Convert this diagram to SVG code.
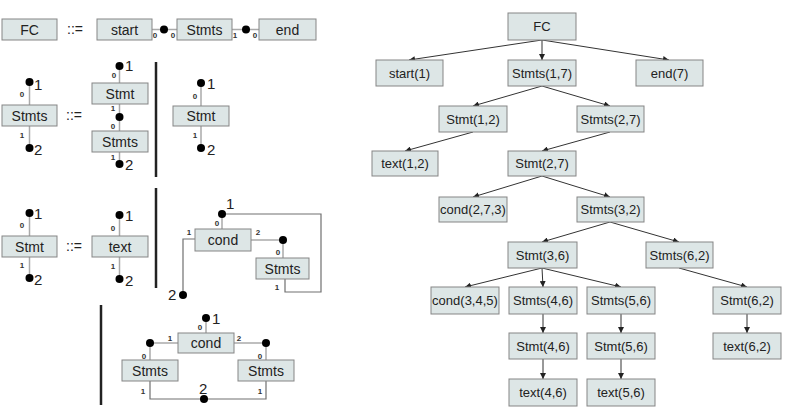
<svg xmlns="http://www.w3.org/2000/svg" width="785" height="412" viewBox="0 0 785 412">
<defs>
<marker id="ah" markerUnits="userSpaceOnUse" markerWidth="7" markerHeight="6" refX="6" refY="3" orient="auto"><path d="M0,0 L6,3 L0,6 z" fill="#222"/></marker>
<style>
.box{fill:#dde6e6;stroke:#858585;stroke-width:1}
.t{font-family:"Liberation Sans",Arial,sans-serif;font-size:13px;fill:#222;text-anchor:middle}
.tl{font-family:"Liberation Sans",Arial,sans-serif;font-size:14px;fill:#222;text-anchor:middle}
.p{font-family:"Liberation Sans",Arial,sans-serif;font-size:8px;font-weight:bold;fill:#333;text-anchor:middle}
.n{font-family:"Liberation Sans",Arial,sans-serif;font-size:15px;fill:#222}
.w{stroke:#aaa;stroke-width:1.5;fill:none}
.wd{stroke:#707070;stroke-width:1.2;fill:none}
.dot{fill:#000}
.bar{stroke:#222;stroke-width:2.5}
.a{stroke:#333;stroke-width:1;fill:none;marker-end:url(#ah)}
</style>
</defs>
<rect width="785" height="412" fill="#fff"/>

<g id="connectors">
<line class="w" x1="152" y1="29.5" x2="177" y2="29.5"/>
<line class="w" x1="232" y1="29.5" x2="259" y2="29.5"/>
<line class="w" x1="29.5" y1="82" x2="29.5" y2="105"/>
<line class="w" x1="29.5" y1="126" x2="29.5" y2="148"/>
<line class="w" x1="119.5" y1="66" x2="119.5" y2="83"/>
<line class="w" x1="119.5" y1="104" x2="119.5" y2="131"/>
<line class="w" x1="119.5" y1="152" x2="119.5" y2="164"/>
<line class="w" x1="201" y1="83" x2="201" y2="106"/>
<line class="w" x1="201" y1="126" x2="201" y2="148"/>
<line class="w" x1="29.5" y1="213" x2="29.5" y2="236"/>
<line class="w" x1="29.5" y1="257" x2="29.5" y2="278"/>
<line class="w" x1="119.5" y1="215" x2="119.5" y2="236"/>
<line class="w" x1="119.5" y1="257" x2="119.5" y2="279"/>
<line class="w" x1="222" y1="214" x2="222" y2="229"/>
<polyline class="wd" points="222,214 321,214 321,292 285,292 285,279"/>
<polyline class="wd" points="195,239 183,239 183,295"/>
<polyline class="w" points="251,240 283,240 283,258"/>
<line class="w" x1="206" y1="318" x2="206" y2="333"/>
<polyline class="w" points="178,343 150,343 150,360"/>
<polyline class="w" points="234,343 266,343 266,360"/>
<polyline class="wd" points="150,381 150,399 266,399 266,381"/>
<line class="bar" x1="156" y1="62" x2="156" y2="177"/>
<line class="bar" x1="156" y1="188" x2="156" y2="288"/>
<line class="bar" x1="101" y1="305" x2="101" y2="405"/>
<circle class="dot" cx="164" cy="29.5" r="4"/>
<circle class="dot" cx="246" cy="29.5" r="4"/>
<circle class="dot" cx="29.5" cy="82" r="4"/>
<circle class="dot" cx="29.5" cy="148" r="4"/>
<circle class="dot" cx="119.5" cy="66" r="4"/>
<circle class="dot" cx="119.5" cy="117" r="4"/>
<circle class="dot" cx="119.5" cy="164" r="4"/>
<circle class="dot" cx="201" cy="83" r="4"/>
<circle class="dot" cx="201" cy="148" r="4"/>
<circle class="dot" cx="29.5" cy="213" r="4"/>
<circle class="dot" cx="29.5" cy="278" r="4"/>
<circle class="dot" cx="119.5" cy="215" r="4"/>
<circle class="dot" cx="119.5" cy="279" r="4"/>
<circle class="dot" cx="222" cy="214" r="4"/>
<circle class="dot" cx="183" cy="295" r="4"/>
<circle class="dot" cx="283" cy="240" r="4"/>
<circle class="dot" cx="206" cy="318" r="4"/>
<circle class="dot" cx="150" cy="343" r="4"/>
<circle class="dot" cx="266" cy="343" r="4"/>
<circle class="dot" cx="204" cy="399" r="4"/>
<text class="p" x="155" y="38">0</text>
<text class="p" x="173" y="38">0</text>
<text class="p" x="235" y="38">1</text>
<text class="p" x="255" y="38">0</text>
<text class="p" x="22" y="97">0</text>
<text class="p" x="22" y="138">1</text>
<text class="p" x="114" y="78">0</text>
<text class="p" x="113" y="111">1</text>
<text class="p" x="113" y="129">0</text>
<text class="p" x="113" y="160">1</text>
<text class="p" x="195" y="99">0</text>
<text class="p" x="195" y="138">1</text>
<text class="p" x="22" y="228">0</text>
<text class="p" x="22" y="268">1</text>
<text class="p" x="113" y="231">0</text>
<text class="p" x="113" y="269">1</text>
<text class="p" x="217" y="226">0</text>
<text class="p" x="189" y="235">1</text>
<text class="p" x="258" y="235">2</text>
<text class="p" x="278" y="255">0</text>
<text class="p" x="277" y="290">1</text>
<text class="p" x="200" y="330">0</text>
<text class="p" x="170" y="341">1</text>
<text class="p" x="239" y="341">2</text>
<text class="p" x="144" y="359">0</text>
<text class="p" x="260" y="359">0</text>
<text class="p" x="143" y="394">1</text>
<text class="p" x="260" y="394">1</text>
<text class="n" x="34" y="90">1</text>
<text class="n" x="34" y="155">2</text>
<text class="n" x="125" y="71">1</text>
<text class="n" x="125" y="170">2</text>
<text class="n" x="207" y="89">1</text>
<text class="n" x="207" y="155">2</text>
<text class="n" x="34" y="219">1</text>
<text class="n" x="34" y="285">2</text>
<text class="n" x="125" y="221">1</text>
<text class="n" x="125" y="286">2</text>
<text class="n" x="226" y="209">1</text>
<text class="n" x="168" y="300">2</text>
<text class="n" x="212" y="324">1</text>
<text class="n" x="199" y="394">2</text>
<text class="tl" x="75" y="34">::=</text>
<text class="tl" x="74" y="120">::=</text>
<text class="tl" x="74" y="251">::=</text>
<line class="a" x1="542" y1="40" x2="409" y2="60"/>
<line class="a" x1="542" y1="40" x2="542" y2="60"/>
<line class="a" x1="542" y1="40" x2="669" y2="60"/>
<line class="a" x1="542" y1="86" x2="473" y2="106"/>
<line class="a" x1="542" y1="86" x2="610" y2="106"/>
<line class="a" x1="473" y1="132" x2="405" y2="151"/>
<line class="a" x1="610" y1="132" x2="542" y2="151"/>
<line class="a" x1="542" y1="176" x2="473" y2="197"/>
<line class="a" x1="542" y1="176" x2="610" y2="197"/>
<line class="a" x1="610" y1="222" x2="542" y2="242"/>
<line class="a" x1="610" y1="222" x2="679" y2="242"/>
<line class="a" x1="542" y1="268" x2="465" y2="287"/>
<line class="a" x1="542" y1="268" x2="543" y2="287"/>
<line class="a" x1="542" y1="268" x2="621" y2="287"/>
<line class="a" x1="679" y1="268" x2="747" y2="287"/>
<line class="a" x1="543" y1="314" x2="543" y2="333"/>
<line class="a" x1="621" y1="314" x2="621" y2="333"/>
<line class="a" x1="747" y1="314" x2="747" y2="333"/>
<line class="a" x1="543" y1="359" x2="543" y2="379"/>
<line class="a" x1="621" y1="359" x2="621" y2="379"/>
</g>

<g id="g-FC"><rect class="box" x="2" y="19" width="55" height="21"/><text class="tl" x="29.5" y="34.5">FC</text></g>
<g id="g-start"><rect class="box" x="97" y="19" width="55" height="21"/><text class="tl" x="124.5" y="34.5">start</text></g>
<g id="g-Stmts1"><rect class="box" x="177" y="19" width="55" height="21"/><text class="tl" x="204.5" y="34.5">Stmts</text></g>
<g id="g-end"><rect class="box" x="259" y="19" width="57" height="21"/><text class="tl" x="287.5" y="34.5">end</text></g>

<g id="g-Stmts2"><rect class="box" x="2" y="105" width="55" height="21"/><text class="tl" x="29.5" y="120.5">Stmts</text></g>
<g id="g-Stmt2a"><rect class="box" x="92" y="83" width="56" height="21"/><text class="tl" x="120" y="98.5">Stmt</text></g>
<g id="g-Stmts2b"><rect class="box" x="92" y="131" width="56" height="21"/><text class="tl" x="120" y="146.5">Stmts</text></g>
<g id="g-Stmt2c"><rect class="box" x="173" y="106" width="56" height="20"/><text class="tl" x="201" y="121">Stmt</text></g>

<g id="g-Stmt3"><rect class="box" x="2" y="236" width="55" height="21"/><text class="tl" x="29.5" y="251.5">Stmt</text></g>
<g id="g-text3"><rect class="box" x="92" y="236" width="56" height="21"/><text class="tl" x="120" y="251.5">text</text></g>
<g id="g-cond3"><rect class="box" x="195" y="229" width="56" height="22"/><text class="tl" x="223" y="245">cond</text></g>
<g id="g-Stmts3"><rect class="box" x="256" y="258" width="53" height="21"/><text class="tl" x="282.5" y="273.5">Stmts</text></g>

<g id="g-cond4"><rect class="box" x="178" y="333" width="56" height="20"/><text class="tl" x="206" y="348">cond</text></g>
<g id="g-Stmts4a"><rect class="box" x="122" y="360" width="56" height="21"/><text class="tl" x="150" y="375.5">Stmts</text></g>
<g id="g-Stmts4b"><rect class="box" x="238" y="360" width="56" height="21"/><text class="tl" x="266" y="375.5">Stmts</text></g>

<g id="t-FC"><rect class="box" x="508" y="13" width="68" height="27"/><text class="t" x="542" y="31">FC</text></g>
<g id="t-start1"><rect class="box" x="376" y="60" width="67" height="26"/><text class="t" x="409.5" y="77.5">start(1)</text></g>
<g id="t-Stmts17"><rect class="box" x="508" y="60" width="68" height="26"/><text class="t" x="542" y="77.5">Stmts(1,7)</text></g>
<g id="t-end7"><rect class="box" x="636" y="60" width="67" height="26"/><text class="t" x="669.5" y="77.5">end(7)</text></g>
<g id="t-Stmt12"><rect class="box" x="439" y="106" width="68" height="26"/><text class="t" x="473" y="123.5">Stmt(1,2)</text></g>
<g id="t-Stmts27"><rect class="box" x="577" y="106" width="67" height="26"/><text class="t" x="610.5" y="123.5">Stmts(2,7)</text></g>
<g id="t-text12"><rect class="box" x="372" y="151" width="66" height="25"/><text class="t" x="405" y="168">text(1,2)</text></g>
<g id="t-Stmt27"><rect class="box" x="508" y="151" width="68" height="25"/><text class="t" x="542" y="168">Stmt(2,7)</text></g>
<g id="t-cond273"><rect class="box" x="439" y="197" width="68" height="25"/><text class="t" x="473" y="214">cond(2,7,3)</text></g>
<g id="t-Stmts32"><rect class="box" x="577" y="197" width="67" height="25"/><text class="t" x="610.5" y="214">Stmts(3,2)</text></g>
<g id="t-Stmt36"><rect class="box" x="508" y="242" width="69" height="26"/><text class="t" x="542.5" y="259.5">Stmt(3,6)</text></g>
<g id="t-Stmts62"><rect class="box" x="646" y="242" width="67" height="26"/><text class="t" x="679.5" y="259.5">Stmts(6,2)</text></g>
<g id="t-cond345"><rect class="box" x="431" y="287" width="68" height="27"/><text class="t" x="465" y="305">cond(3,4,5)</text></g>
<g id="t-Stmts46"><rect class="box" x="509" y="287" width="68" height="27"/><text class="t" x="543" y="305">Stmts(4,6)</text></g>
<g id="t-Stmts56"><rect class="box" x="587" y="287" width="68" height="27"/><text class="t" x="621" y="305">Stmts(5,6)</text></g>
<g id="t-Stmt62"><rect class="box" x="713" y="287" width="68" height="27"/><text class="t" x="747" y="305">Stmt(6,2)</text></g>
<g id="t-Stmt46"><rect class="box" x="509" y="333" width="68" height="26"/><text class="t" x="543" y="350.5">Stmt(4,6)</text></g>
<g id="t-Stmt56"><rect class="box" x="587" y="333" width="68" height="26"/><text class="t" x="621" y="350.5">Stmt(5,6)</text></g>
<g id="t-text62"><rect class="box" x="713" y="333" width="68" height="26"/><text class="t" x="747" y="350.5">text(6,2)</text></g>
<g id="t-text46"><rect class="box" x="509" y="379" width="68" height="27"/><text class="t" x="543" y="397">text(4,6)</text></g>
<g id="t-text56"><rect class="box" x="587" y="379" width="68" height="27"/><text class="t" x="621" y="397">text(5,6)</text></g>
</svg>
